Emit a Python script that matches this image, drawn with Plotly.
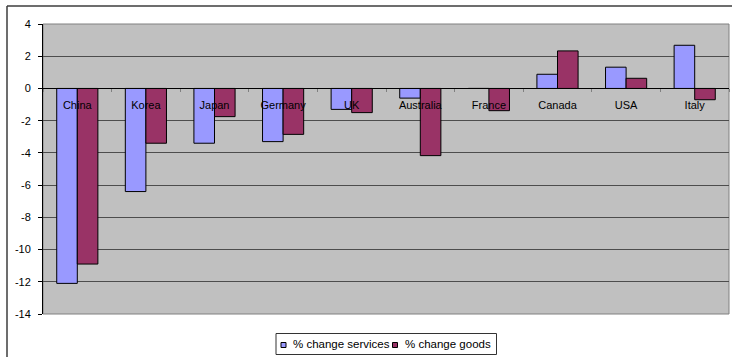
import plotly.graph_objects as go

# Country categories and percentage changes
countries = ["China", "Korea", "Japan", "Germany", "UK", "Australia",
             "France", "Canada", "USA", "Italy"]
services = [-12.1, -6.4, -3.4, -3.3, -1.3, -0.6, 0.0, 0.88, 1.32, 2.68]
goods = [-10.9, -3.4, -1.75, -2.85, -1.5, -4.17, -1.38, 2.33, 0.63, -0.7]

y_ticks = [4, 2, 0, -2, -4, -6, -8, -10, -12, -14]
y_tick_labels = ["4", "2", "0", "-2", "-4", "-6", "-8", "-10", "-12", "-14"]

series_names = ["% change services", "% change goods"]
series_colors = ["#9999ff", "#993366"]

W, H = 732, 357
ML, MR, MT, MB = 43, 3, 24, 43
pw = W - ML - MR
ph = H - MT - MB


def px_x(px):
    return (px - ML) / pw


def px_y(py):
    return (MT + ph - py) / ph


font = dict(family="Liberation Sans, Arial, sans-serif", size=11, color="black")
legend_font = dict(family="Liberation Sans, Arial, sans-serif", size=11.5, color="black")

fig = go.Figure()
for name, vals, col in zip(series_names, [services, goods], series_colors):
    fig.add_trace(go.Bar(
        x=countries, y=vals, name=name,
        marker=dict(color=col, line=dict(color="black", width=1)),
    ))

ymin, ymax = -14, 4
zero_pos = (0 - ymin) / (ymax - ymin)

shapes = [
    # outer frame (top and left edges)
    dict(type="line", xref="paper", yref="paper", x0=px_x(7), x1=px_x(W + 2),
         y0=px_y(6), y1=px_y(6), line=dict(color="#3c3c3c", width=1.5)),
    dict(type="line", xref="paper", yref="paper", x0=px_x(7), x1=px_x(7),
         y0=px_y(6), y1=px_y(H + 2), line=dict(color="#3c3c3c", width=1.5)),
    # plot area border
    dict(type="rect", xref="paper", yref="paper", x0=0, x1=1, y0=0, y1=1,
         line=dict(color="#808080", width=1), layer="below"),
    # legend box
    dict(type="rect", xref="paper", yref="paper",
         x0=px_x(276), x1=px_x(496.5), y0=px_y(354.5), y1=px_y(333.5),
         line=dict(color="#333333", width=1), fillcolor="white"),
]

annotations = []
# legend entries: swatch + label
swatch_x = [281, 392.5]
label_x = [291, 403]
for name, col, sx, lx in zip(series_names, series_colors, swatch_x, label_x):
    shapes.append(dict(type="rect", xref="paper", yref="paper",
                       x0=px_x(sx), x1=px_x(sx + 5), y0=px_y(347.5), y1=px_y(342.5),
                       line=dict(color="black", width=1), fillcolor=col))
    annotations.append(dict(xref="paper", yref="paper", x=px_x(lx), y=px_y(344),
                            xanchor="left", yanchor="middle", text=name,
                            showarrow=False, font=legend_font))

fig.update_layout(
    width=W, height=H,
    margin=dict(l=ML, r=MR, t=MT, b=MB, pad=0, autoexpand=False),
    paper_bgcolor="white", plot_bgcolor="#c0c0c0",
    barmode="group", bargap=0.4, bargroupgap=0,
    font=font,
    hovermode=False,
    shapes=shapes,
    annotations=annotations,
    showlegend=False,
    xaxis=dict(
        anchor="free", position=zero_pos,
        showline=True, linecolor="black", linewidth=1,
        ticks="outside", tickson="boundaries", ticklen=3, tickcolor="#808080",
        showgrid=False, tickfont=font, ticklabelstandoff=6,
    ),
    yaxis=dict(
        range=[ymin, ymax], tickvals=y_ticks, ticktext=y_tick_labels,
        showline=True, linecolor="black", linewidth=1,
        ticks="outside", ticklen=4, tickcolor="black",
        showgrid=True, gridcolor="#4d4d4d", gridwidth=1,
        zeroline=False, tickfont=font, ticklabelstandoff=5,
    ),
)

fig.write_html("out.html")
